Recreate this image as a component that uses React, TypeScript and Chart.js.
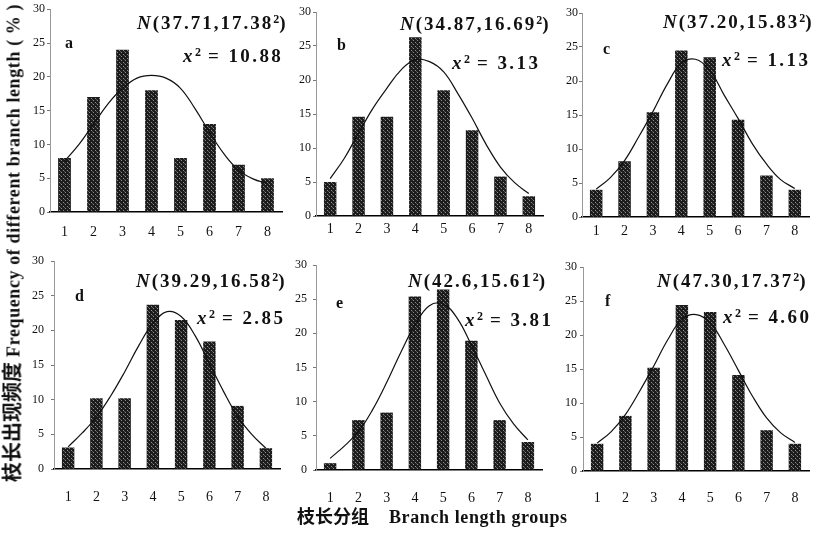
import React, { useEffect, useRef } from 'react';
import { Chart, registerables } from 'chart.js';

Chart.register(...registerables);

// ---------- data ----------
const groups = ['1', '2', '3', '4', '5', '6', '7', '8'];
const groupPos = [1, 2, 3, 4, 5, 6, 7, 8];
const yMax = 30;
const yStep = 5;

const freqA = [8, 17, 24, 18, 8, 13, 7, 5];
const freqB = [5, 14.6, 14.6, 26.3, 18.5, 12.6, 5.8, 2.9];
const freqC = [4, 8.2, 15.4, 24.5, 23.5, 14.3, 6.1, 4];
const freqD = [3.1, 10.2, 10.2, 23.7, 21.5, 18.4, 9.1, 3];
const freqE = [1, 7.3, 8.4, 25.4, 26.4, 18.9, 7.3, 4.1];
const freqF = [4, 8.1, 15.2, 24.4, 23.4, 14.1, 6, 4];

const curveX = [1, 1.5, 2, 2.5, 3, 3.5, 4, 4.5, 5, 5.5, 6, 6.5, 7, 7.5, 8];
const curveA = [7.5, 10, 13, 16, 18.3, 19.8, 20.2, 19.8, 18.3, 15.3, 11.8, 8.6, 6.2, 4.9, 4.2];
const curveB = [5.5, 8.5, 12.2, 15.8, 18.8, 21.5, 23, 22.7, 21.2, 18, 14.4, 10.5, 7.2, 4.9, 3.3];
const curveC = [4.1, 5.8, 8.3, 11.8, 15.5, 19.5, 22.6, 23.2, 21.6, 18, 14.5, 10.8, 7.8, 5.5, 4.2];
const curveD = [3.2, 5.2, 7.5, 10.5, 14, 17.8, 21, 22.7, 22, 19.2, 15.2, 11.2, 7.6, 5, 3];
const curveE = [1.7, 3.5, 5.6, 8.8, 12.8, 17.2, 21.2, 24, 24.3, 22.2, 18.3, 14, 9.8, 6.7, 4.4];
const curveF = [4.1, 5.8, 8.3, 11.7, 15.4, 19.3, 22.3, 23, 21.8, 18.6, 14.8, 11, 7.8, 5.6, 4.2];

const panelLetters = ['a', 'b', 'c', 'd', 'e', 'f'];
const normalMeans = ['37.71', '34.87', '37.20', '39.29', '42.6', '47.30'];
const normalSds = ['17.38', '16.69', '15.83', '16.58', '15.61', '17.37'];
const chiSquares = ['10.88', '3.13', '1.13', '2.85', '3.81', '4.60'];

const yTitleZh = '枝长出现频度';
const yTitleEn = 'Frequency of different branch length ( % )';
const xTitleZh = '枝长分组';
const xTitleEn = 'Branch length groups';

const freqs = [freqA, freqB, freqC, freqD, freqE, freqF];
const curves = [curveA, curveB, curveC, curveD, curveE, curveF];

// ---------- layout (pixels) ----------
const W = 830;
const H = 533;
const YW = 40;
const XH = 40;
const panels = [
  { l: 50, r: 282, t: 7, b: 212, xPad: 12, yPad: 2, nx: 137, ny: 21, cx: 183, cy: 54, lx: 65, ly: 43 },
  { l: 316, r: 543, t: 12, b: 216, xPad: 5, yPad: 2, nx: 400, ny: 22, cx: 452, cy: 61, lx: 337, ly: 45 },
  { l: 582, r: 809, t: 13, b: 217, xPad: 6, yPad: 1, nx: 663, ny: 20, cx: 722, cy: 58, lx: 603, ly: 49 },
  { l: 54, r: 280, t: 261, b: 469, xPad: 20, yPad: 7, nx: 136, ny: 279, cx: 197, cy: 316, lx: 75, ly: 296 },
  { l: 316, r: 542, t: 265, b: 470, xPad: 20, yPad: 6, nx: 408, ny: 279, cx: 465, cy: 318, lx: 336, ly: 303 },
  { l: 583, r: 809, t: 267, b: 471, xPad: 19, yPad: 3, nx: 657, ny: 279, cx: 723, cy: 315, lx: 605, ly: 301 },
];

const SERIF = "'Liberation Serif', 'DejaVu Serif', serif";
const CJK = "'Noto Sans CJK SC', sans-serif";

function makePattern(): CanvasPattern | string {
  const c = document.createElement('canvas');
  c.width = 4;
  c.height = 4;
  const g = c.getContext('2d');
  if (!g) return '#333';
  g.fillStyle = '#1c1c1c';
  g.fillRect(0, 0, 4, 4);
  g.fillStyle = '#8c8c8c';
  g.fillRect(1, 0, 1, 1);
  g.fillRect(3, 2, 1, 1);
  g.fillStyle = '#555';
  g.fillRect(0, 3, 1, 1);
  const p = g.createPattern(c, 'repeat');
  return p || '#333';
}

function Panel({ idx }: { idx: number }) {
  const ref = useRef<HTMLCanvasElement | null>(null);
  useEffect(() => {
    const canvas = ref.current;
    if (!canvas) return;
    const p = panels[idx];
    const fill = makePattern();
    const chart = new Chart(canvas, {
      type: 'bar',
      data: {
        datasets: [
          {
            type: 'line',
            data: curveX.map((x, i) => ({ x, y: curves[idx][i] })),
            borderColor: '#111',
            borderWidth: 1.2,
            pointRadius: 0,
            tension: 0.4,
            fill: false,
            order: 0,
          } as any,
          {
            type: 'bar',
            data: groupPos.map((x, i) => ({ x, y: freqs[idx][i] })),
            backgroundColor: fill as any,
            borderWidth: 0,
            grouped: false,
            barPercentage: 0.44,
            categoryPercentage: 1,
            order: 1,
          } as any,
        ],
      },
      options: {
        responsive: false,
        animation: false,
        devicePixelRatio: 1,
        layout: {
          padding: { left: p.l - YW, right: W - p.r, top: p.t, bottom: H - p.b - XH },
        },
        plugins: { legend: { display: false }, tooltip: { enabled: false } },
        scales: {
          x: {
            type: 'linear',
            offset: false,
            min: 0.5,
            max: 8.5,
            grid: { display: false, drawTicks: false },
            border: { display: true, color: '#000', width: 1.4 },
            afterBuildTicks: (s: any) => {
              s.ticks = groupPos.map((v) => ({ value: v }));
            },
            ticks: {
              color: '#111',
              padding: p.xPad,
              autoSkip: false,
              maxRotation: 0,
              font: { family: SERIF, size: 14 },
              callback: (v: any) => {
                const k = groupPos.indexOf(Number(v));
                return k >= 0 ? groups[k] : '';
              },
            },
            afterFit: (s: any) => { s.height = XH; },
          },
          y: {
            min: 0,
            max: yMax,
            ticks: { stepSize: yStep, color: '#111', padding: p.yPad, font: { family: SERIF, size: 12 } },
            grid: { display: true, drawOnChartArea: false, drawTicks: true, tickLength: 3, color: '#777' },
            border: { display: true, color: '#999', width: 1, dash: [2, 1] },
            afterFit: (s: any) => { s.width = YW; },
          },
        },
      } as any,
    });
    return () => chart.destroy();
  }, [idx]);
  return (
    <canvas
      ref={ref}
      width={W}
      height={H}
      style={{ position: 'absolute', left: 0, top: 0, width: W, height: H }}
    />
  );
}

const textBase: React.CSSProperties = {
  position: 'absolute',
  fontFamily: SERIF,
  fontWeight: 700,
  color: '#111',
  whiteSpace: 'nowrap',
  lineHeight: '20px',
  transform: 'translateY(-50%)',
};

export default function App() {
  return (
    <div
      style={{
        position: 'fixed',
        left: 0,
        top: 0,
        width: W,
        height: H,
        background: '#fff',
        overflow: 'hidden',
      }}
    >
      {panels.map((_, i) => (
        <Panel key={i} idx={i} />
      ))}
      {panels.map((p, i) => (
        <React.Fragment key={'t' + i}>
          <div style={{ ...textBase, left: p.nx, top: p.ny, fontSize: 19, letterSpacing: '2px' }}>
            <i>N</i>({normalMeans[i]},{normalSds[i]}
            <sup style={{ fontSize: 12, verticalAlign: '6px', letterSpacing: 0 }}>2</sup>)
          </div>
          <div style={{ ...textBase, left: p.cx, top: p.cy, fontSize: 19, letterSpacing: '2.4px' }}>
            <i>x</i>
            <sup style={{ fontSize: 12, verticalAlign: '6px', letterSpacing: 0 }}>2</sup> = {chiSquares[i]}
          </div>
          <div style={{ ...textBase, left: p.lx, top: p.ly, fontSize: 16 }}>{panelLetters[i]}</div>
        </React.Fragment>
      ))}
      <div
        style={{
          position: 'absolute',
          left: 13,
          top: 243,
          transform: 'translate(-50%, -50%) rotate(-90deg)',
          whiteSpace: 'nowrap',
          color: '#111',
          fontWeight: 700,
          lineHeight: '22px',
        }}
      >
        <span style={{ fontFamily: CJK, fontSize: 20 }}>{yTitleZh}</span>
        <span style={{ fontFamily: SERIF, fontSize: 18, letterSpacing: '0.6px' }}> {yTitleEn}</span>
      </div>
      <div
        style={{
          position: 'absolute',
          left: 297,
          top: 516,
          transform: 'translateY(-50%)',
          whiteSpace: 'nowrap',
          color: '#111',
          fontWeight: 700,
          lineHeight: '22px',
        }}
      >
        <span style={{ fontFamily: CJK, fontSize: 18 }}>{xTitleZh}</span>
        <span style={{ fontFamily: SERIF, fontSize: 18, letterSpacing: '0.6px', marginLeft: 20 }}>{xTitleEn}</span>
      </div>
    </div>
  );
}
